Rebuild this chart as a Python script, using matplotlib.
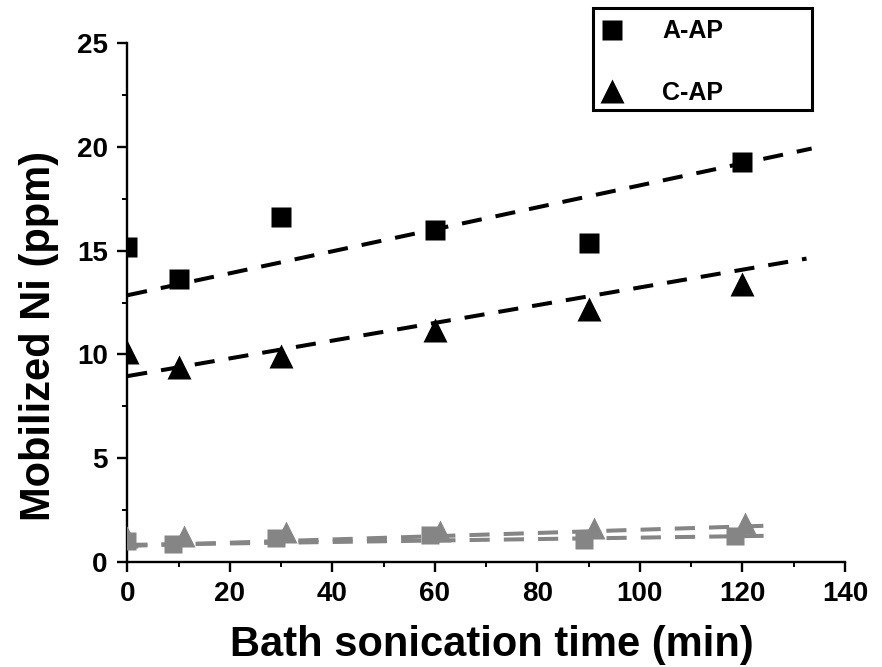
import matplotlib
matplotlib.use('Agg')
import matplotlib.pyplot as plt
import matplotlib.patches as mpatches
from matplotlib.ticker import MultipleLocator

plt.rcParams['font.family'] = ['Liberation Sans', 'DejaVu Sans']
plt.rcParams['font.weight'] = 'bold'

# sonication times (min)
times = [0, 10, 30, 60, 90, 120]
times_grey_sq = [0, 9, 29, 59, 89, 118.5]
times_grey_tri = [0, 11, 31, 61, 91, 120.5]

# mobilized Ni (ppm), black series
a_ap = [15.2, 13.66, 16.63, 16.0, 15.37, 19.26]
c_ap = [10.1, 9.38, 9.94, 11.2, 12.2, 13.39]

# grey series
a_ap_grey = [0.98, 0.86, 1.16, 1.28, 1.06, 1.26]
c_ap_grey = [1.2, 1.25, 1.41, 1.49, 1.64, 1.85]

# dashed trend lines: (x_start, x_end, y_start, y_end)
fit_a = (0, 133.5, 12.85, 19.93)
fit_c = (0, 132.5, 8.95, 14.62)
fit_a_grey = (0, 125.4, 0.81, 1.25)
fit_c_grey = (0, 125.4, 0.76, 1.74)

grey = '#858585'

fig = plt.figure(figsize=(8.82, 6.67), dpi=100)
ax = fig.add_axes([0.1443, 0.1579, 0.8137, 0.777])

def trend(ax, fit, color):
    ax.plot([fit[0], fit[1]], [fit[2], fit[3]], color=color, lw=2.9,
            dashes=(5, 3.5), zorder=2, solid_capstyle='butt')

trend(ax, fit_a, 'k')
trend(ax, fit_c, 'k')
trend(ax, fit_a_grey, grey)
trend(ax, fit_c_grey, grey)

ax.plot(times, a_ap, 's', color='k', ms=13.7, mec='none', zorder=3, label='A-AP')
ax.plot(times, c_ap, '^', color='k', ms=17, mec='none', zorder=3, label='C-AP')
ax.plot(times_grey_sq, a_ap_grey, 's', color=grey, ms=13.2, mec='none', zorder=3)
ax.plot(times_grey_tri, c_ap_grey, '^', color=grey, ms=16, mec='none', zorder=3)

ax.set_xlim(0, 140)
ax.set_ylim(0, 25)
ax.xaxis.set_major_locator(MultipleLocator(20))
ax.xaxis.set_minor_locator(MultipleLocator(10))
ax.yaxis.set_major_locator(MultipleLocator(5))
ax.yaxis.set_minor_locator(MultipleLocator(2.5))

for s in ['top', 'right']:
    ax.spines[s].set_visible(False)
for s in ['left', 'bottom']:
    ax.spines[s].set_linewidth(1.7)

ax.tick_params(which='major', direction='out', length=7, width=1.7,
               labelsize=20, pad=7)
ax.tick_params(which='minor', direction='out', length=3.5, width=1.4)
for lb in ax.get_xticklabels() + ax.get_yticklabels():
    lb.set_fontweight('bold')

ax.set_xlabel('Bath sonication time (min)', fontsize=30, fontweight='bold', labelpad=13)
ax.set_ylabel('Mobilized Ni (ppm)', fontsize=30, fontweight='bold', labelpad=13)
ax.xaxis.label.set_x(0.508)
ax.yaxis.label.set_y(0.435)

# legend box
frame = mpatches.Rectangle((0.672, 0.835), 0.2483, 0.1526, transform=fig.transFigure,
                           fill=False, edgecolor='k', lw=2.2)
fig.patches.append(frame)
leg = fig.legend(loc='upper left', bbox_to_anchor=(0.683, 0.971), fontsize=18,
                 frameon=False, borderpad=0, borderaxespad=0,
                 handletextpad=1.6, labelspacing=1.5, handlelength=0.8)
for t in leg.get_texts():
    t.set_fontweight('bold')

fig.savefig('out.png', dpi=100)
